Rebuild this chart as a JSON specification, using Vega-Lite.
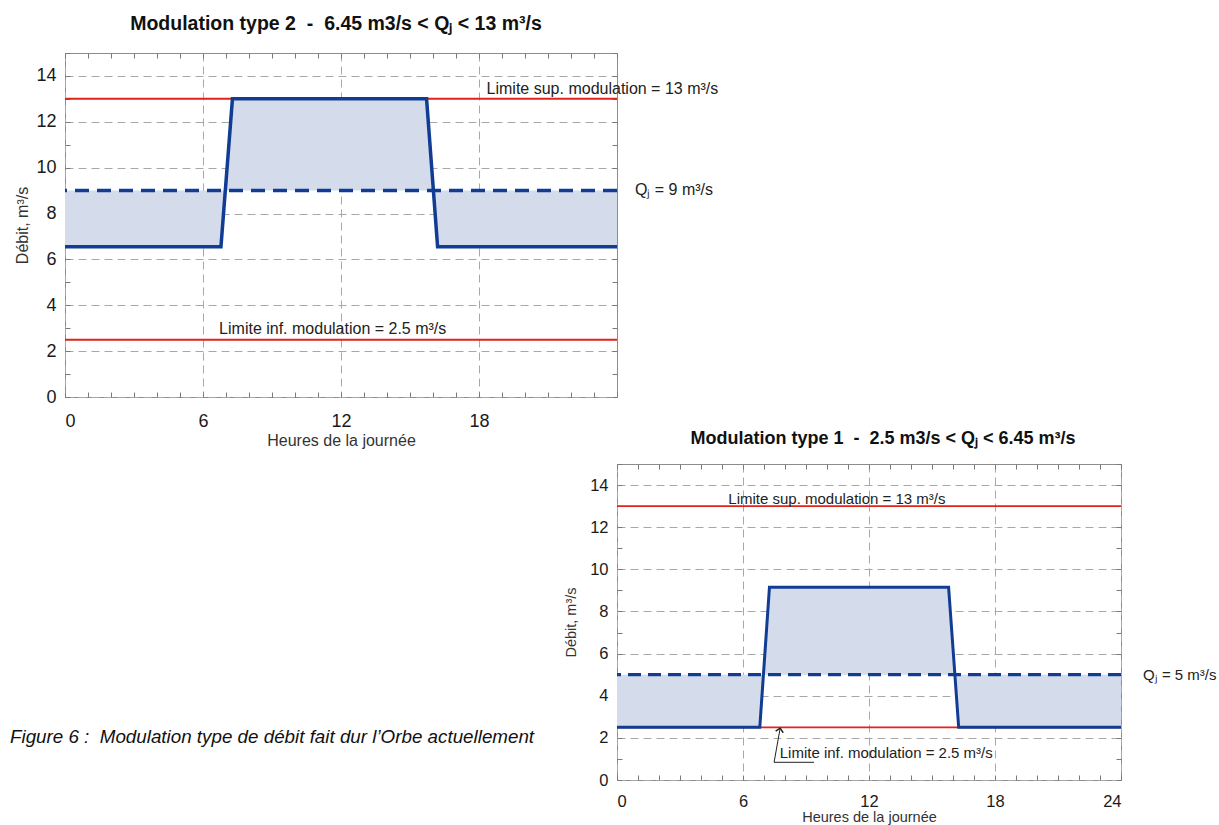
{
  "$schema": "https://vega.github.io/schema/vega-lite/v6.json",
  "autosize": {"type": "none"},
  "padding": {"left": 65, "top": 53, "right": 1154, "bottom": 772},
  "background": "white",
  "config": {
    "font": "Liberation Sans",
    "axis": {
      "labelFont": "Liberation Sans",
      "titleFont": "Liberation Sans",
      "labelColor": "#1a1a1a",
      "titleColor": "#333333",
      "titleFontWeight": "normal",
      "gridColor": "#a8a8a8",
      "gridDash": [8, 5],
      "gridWidth": 1,
      "domain": false,
      "ticks": false,
      "tickColor": "#7a7a7a",
      "tickWidth": 1
    }
  },
  "datasets": {
    "flow1": [
      {"h": 0, "q": 6.55, "qj": 9},
      {"h": 6.78, "q": 6.55, "qj": 9},
      {"h": 7.28, "q": 13, "qj": 9},
      {"h": 15.72, "q": 13, "qj": 9},
      {"h": 16.2, "q": 6.55, "qj": 9},
      {"h": 24, "q": 6.55, "qj": 9}
    ],
    "flow2": [
      {"h": 0, "q": 2.5, "qj": 5},
      {"h": 6.8, "q": 2.5, "qj": 5},
      {"h": 7.26, "q": 9.15, "qj": 5},
      {"h": 15.79, "q": 9.15, "qj": 5},
      {"h": 16.27, "q": 2.5, "qj": 5},
      {"h": 24, "q": 2.5, "qj": 5}
    ],
    "limits": [{"v": 13}, {"v": 2.5}],
    "qj1": [{"qj": 9}],
    "qj2": [{"qj": 5}],
    "ann1": [
      {"h": 18.33, "q": 13.21, "label": "Limite sup. modulation = 13 m³/s"},
      {"h": 6.7, "q": 2.73, "label": "Limite inf. modulation = 2.5 m³/s"},
      {"h": 24.78, "q": 8.81, "label": "Qⱼ = 9 m³/s"}
    ],
    "ann2": [
      {"h": 5.3, "q": 13.1, "label": "Limite sup. modulation = 13 m³/s"},
      {"h": 7.75, "q": 1.04, "label": "Limite inf. modulation = 2.5 m³/s"},
      {"h": 25.05, "q": 4.76, "label": "Qⱼ = 5 m³/s"}
    ],
    "leader2": [
      {"h": 9.38, "q": 0.84, "o": 0},
      {"h": 7.48, "q": 0.84, "o": 1},
      {"h": 7.77, "q": 2.46, "o": 2}
    ],
    "tip2": [{"h": 7.77, "q": 2.46}]
  },
  "columns": 2,
  "bounds": "flush",
  "align": "each",
  "spacing": {"row": 67, "column": -4},
  "concat": [
    {
      "width": 552,
      "height": 344,
      "view": {"stroke": "#8c8c8c", "strokeWidth": 1},
      "title": {"text": "Modulation type 2\u00a0\u00a0-\u00a0\u00a06.45 m3/s < Qⱼ < 13 m³/s", "font": "Liberation Sans", "fontSize": 19.5, "fontWeight": "bold", "color": "#111111", "offset": 3, "baseline": "alphabetic", "dx": -5},
      "resolve": {"axis": {"x": "independent", "y": "independent"}},
      "layer": [
        {
          "data": {"name": "flow1"},
          "mark": {"type": "area", "color": "#d4dcec"},
          "encoding": {
            "x": {"field": "h", "type": "quantitative", "scale": {"domain": [0, 24], "nice": false, "zero": false},
              "axis": {"orient": "bottom", "values": [0, 6, 12, 18], "grid": true, "labelFontSize": 18, "labelPadding": 15, "title": "Heures de la journée", "titleFontSize": 16, "titlePadding": 2}},
            "y": {"field": "q", "type": "quantitative", "scale": {"domain": [0, 15], "nice": false},
              "axis": {"orient": "left", "values": [0, 2, 4, 6, 8, 10, 12, 14], "grid": true, "labelFontSize": 18, "labelPadding": 9, "title": "Débit, m³/s", "titleFontSize": 16, "titlePadding": 5}},
            "y2": {"field": "qj"}
          }
        },
        {
          "data": {"name": "limits"},
          "mark": {"type": "rule", "color": "#e2231c", "strokeWidth": 2},
          "encoding": {"y": {"field": "v", "type": "quantitative", "axis": null}}
        },
        {
          "data": {"name": "qj1"},
          "mark": {"type": "rule", "color": "#103c94", "strokeWidth": 3.5, "strokeDash": [14, 8]},
          "encoding": {"y": {"field": "qj", "type": "quantitative", "axis": null}}
        },
        {
          "data": {"name": "flow1"},
          "mark": {"type": "line", "color": "#103c94", "strokeWidth": 3.5, "strokeJoin": "miter"},
          "encoding": {
            "x": {"field": "h", "type": "quantitative",
              "axis": {"orient": "bottom", "values": [0,1,2,3,4,5,6,7,8,9,10,11,12,13,14,15,16,17,18,19,20,21,22,23,24], "ticks": true, "tickSize": -5, "labels": false, "grid": false, "title": null}},
            "y": {"field": "q", "type": "quantitative",
              "axis": {"orient": "left", "values": [0,1,2,3,4,5,6,7,8,9,10,11,12,13,14,15], "ticks": true, "tickSize": -5, "labels": false, "grid": false, "title": null}}
          }
        },
        {
          "data": {"name": "ann1"},
          "mark": {"type": "text", "align": "left", "baseline": "alphabetic", "fontSize": 16, "color": "#222222"},
          "encoding": {
            "x": {"field": "h", "type": "quantitative",
              "axis": {"orient": "top", "values": [0,1,2,3,4,5,6,7,8,9,10,11,12,13,14,15,16,17,18,19,20,21,22,23,24], "ticks": true, "tickSize": -5, "labels": false, "grid": false, "title": null}},
            "y": {"field": "q", "type": "quantitative",
              "axis": {"orient": "right", "values": [0,1,2,3,4,5,6,7,8,9,10,11,12,13,14,15], "ticks": true, "tickSize": -5, "labels": false, "grid": false, "title": null}},
            "text": {"field": "label"}
          }
        }
      ]
    },
    {
      "width": 1,
      "height": 1,
      "view": {"stroke": null},
      "data": {"values": []},
      "mark": "point",
      "encoding": {}
    },
    {
      "width": 1,
      "height": 264,
      "view": {"stroke": null},
      "data": {"values": []},
      "mark": "point",
      "encoding": {},
      "title": {"text": "Figure 6 :\u00a0 Modulation type de débit fait dur l’Orbe actuellement", "orient": "bottom", "anchor": "start", "dx": -55, "offset": 0, "baseline": "top", "fontSize": 18.8, "fontStyle": "italic", "fontWeight": "normal", "font": "Liberation Sans", "color": "#111111"}
    },
    {
      "width": 504,
      "height": 316,
      "view": {"stroke": "#8c8c8c", "strokeWidth": 1},
      "title": {"text": "Modulation type 1\u00a0\u00a0-\u00a0\u00a02.5 m3/s < Qⱼ < 6.45 m³/s", "font": "Liberation Sans", "fontSize": 18, "fontWeight": "bold", "color": "#111111", "offset": 2, "baseline": "alphabetic", "dx": 14},
      "resolve": {"axis": {"x": "independent", "y": "independent"}},
      "layer": [
        {
          "data": {"name": "flow2"},
          "mark": {"type": "area", "color": "#d4dcec"},
          "encoding": {
            "x": {"field": "h", "type": "quantitative", "scale": {"domain": [0, 24], "nice": false, "zero": false},
              "axis": {"orient": "bottom", "values": [0, 6, 12, 18, 24], "grid": true, "labelFontSize": 16.5, "labelPadding": 13, "title": "Heures de la journée", "titleFontSize": 14.5, "titlePadding": 1}},
            "y": {"field": "q", "type": "quantitative", "scale": {"domain": [0, 15], "nice": false},
              "axis": {"orient": "left", "values": [0, 2, 4, 6, 8, 10, 12, 14], "grid": true, "labelFontSize": 16.5, "labelPadding": 9, "title": "Débit, m³/s", "titleFontSize": 14.5, "titlePadding": 11}},
            "y2": {"field": "qj"}
          }
        },
        {
          "data": {"name": "limits"},
          "mark": {"type": "rule", "color": "#e2231c", "strokeWidth": 1.8},
          "encoding": {"y": {"field": "v", "type": "quantitative", "axis": null}}
        },
        {
          "data": {"name": "qj2"},
          "mark": {"type": "rule", "color": "#103c94", "strokeWidth": 3.2, "strokeDash": [13, 7]},
          "encoding": {"y": {"field": "qj", "type": "quantitative", "axis": null}}
        },
        {
          "data": {"name": "flow2"},
          "mark": {"type": "line", "color": "#103c94", "strokeWidth": 3, "strokeJoin": "miter"},
          "encoding": {
            "x": {"field": "h", "type": "quantitative",
              "axis": {"orient": "bottom", "values": [0,1,2,3,4,5,6,7,8,9,10,11,12,13,14,15,16,17,18,19,20,21,22,23,24], "ticks": true, "tickSize": -5, "labels": false, "grid": false, "title": null}},
            "y": {"field": "q", "type": "quantitative",
              "axis": {"orient": "left", "values": [0,1,2,3,4,5,6,7,8,9,10,11,12,13,14,15], "ticks": true, "tickSize": -5, "labels": false, "grid": false, "title": null}}
          }
        },
        {
          "data": {"name": "leader2"},
          "mark": {"type": "line", "color": "#222222", "strokeWidth": 1},
          "encoding": {
            "x": {"field": "h", "type": "quantitative", "axis": null},
            "y": {"field": "q", "type": "quantitative", "axis": null},
            "order": {"field": "o"}
          }
        },
        {
          "data": {"name": "tip2"},
          "mark": {"type": "point", "shape": "M -1 1 L 0 0 L 1 1", "filled": false, "stroke": "#222222", "strokeWidth": 1.5, "size": 60, "angle": 11, "opacity": 1},
          "encoding": {
            "x": {"field": "h", "type": "quantitative", "axis": null},
            "y": {"field": "q", "type": "quantitative", "axis": null}
          }
        },
        {
          "data": {"name": "ann2"},
          "mark": {"type": "text", "align": "left", "baseline": "alphabetic", "fontSize": 15, "color": "#222222"},
          "encoding": {
            "x": {"field": "h", "type": "quantitative",
              "axis": {"orient": "top", "values": [0,1,2,3,4,5,6,7,8,9,10,11,12,13,14,15,16,17,18,19,20,21,22,23,24], "ticks": true, "tickSize": -5, "labels": false, "grid": false, "title": null}},
            "y": {"field": "q", "type": "quantitative",
              "axis": {"orient": "right", "values": [0,1,2,3,4,5,6,7,8,9,10,11,12,13,14,15], "ticks": true, "tickSize": -5, "labels": false, "grid": false, "title": null}},
            "text": {"field": "label"}
          }
        }
      ]
    }
  ]
}
